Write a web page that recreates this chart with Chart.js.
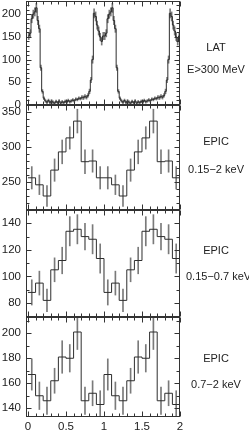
<!DOCTYPE html>
<html>
<head>
<meta charset="utf-8">
<script src="https://cdn.jsdelivr.net/npm/chart.js@4.4.1/dist/chart.umd.min.js"></script>
<style>
  body { margin: 0; background: #fff; }
  #wrap { position: relative; width: 249px; height: 433px; }
  canvas { position: absolute; left: 0; top: 0; }
  .lbl {
    position: absolute; left: 186px; width: 60px; text-align: center;
    font: 11px "Liberation Sans", Arial, sans-serif; color: #222;
    line-height: 14px; white-space: nowrap;
  }
</style>
</head>
<body>
<div id="wrap">
  <canvas id="lat" width="249" height="433"></canvas>
  <canvas id="epicAll" width="249" height="433"></canvas>
  <canvas id="epicSoft" width="249" height="433"></canvas>
  <canvas id="epicHard" width="249" height="433"></canvas>
  <div class="lbl" style="top:40px">LAT</div>
  <div class="lbl" style="top:62px">E&gt;300 MeV</div>
  <div class="lbl" style="top:134px">EPIC</div>
  <div class="lbl" style="top:162px">0.15−2 keV</div>
  <div class="lbl" style="top:243px">EPIC</div>
  <div class="lbl" style="top:269px">0.15−0.7 keV</div>
  <div class="lbl" style="top:351px">EPIC</div>
  <div class="lbl" style="top:377px">0.7−2 keV</div>
</div>
<script>
// Phase axis
const xTicks = [0, 0.5, 1, 1.5, 2];

// LAT counts, one cycle of 50 bins (0.02 wide), shown twice
const latCounts = [
  152, 158, 190, 200, 205, 214, 186, 168, 82, 30,
  15, 9, 6, 10, 5, 9, 6, 4, 8, 5,
  9, 4, 7, 5, 8, 6, 10, 7, 9, 11,
  9, 13, 12, 15, 14, 17, 16, 19, 17, 21,
  30, 55, 100, 202, 195, 176, 163, 150, 140, 152
];
const latErr = [
  8, 8, 9, 9, 9, 10, 9, 8, 6, 4,
  3, 3, 3, 3, 3, 3, 3, 3, 3, 3,
  3, 3, 3, 3, 3, 3, 3, 3, 3, 3,
  3, 3, 3, 3, 3, 4, 4, 4, 4, 4,
  5, 6, 8, 10, 10, 9, 9, 8, 8, 8
];
const latTicks = [0, 50, 100, 150, 200];

// EPIC rates, one cycle of 10 bins (0.1 wide), shown twice
const epicAllRate = [256, 246, 230, 267, 293, 313, 337, 279, 280, 256];
const epicAllErr = [16, 14, 15, 16, 17, 16, 17, 17, 16, 16];
const epicAllTicks = [250, 300, 350];

const epicSoftRate = [88, 95, 82, 105, 112, 134, 135.5, 130, 128, 113.5];
const epicSoftErr = [9.5, 9, 8.5, 9, 10, 11, 11, 10, 11, 11];
const epicSoftTicks = [80, 100, 120, 140];

const epicHardRate = [167, 150, 146, 162, 181, 180, 201, 146, 152, 143];
const epicHardErr = [12.5, 11, 11, 10, 13, 11, 14, 11, 10, 11];
const epicHardTicks = [140, 160, 180, 200];

Chart.defaults.font.family = '"Liberation Sans", Arial, sans-serif';
Chart.defaults.font.size = 11.5;
Chart.defaults.color = '#222';

// Histogram steps: left bin edges for two cycles plus closing point
function stepPoints(cycle, width) {
  const pts = [];
  for (let c = 0; c < 2; c++) {
    cycle.forEach((v, i) => pts.push({ x: c + i * width, y: v }));
  }
  pts.push({ x: 2, y: cycle[cycle.length - 1] });
  return pts;
}

// Error bars as floating bars at bin centres
function errorBars(cycle, errs, width) {
  const bars = [];
  for (let c = 0; c < 2; c++) {
    cycle.forEach((v, i) => bars.push({ x: c + (i + 0.5) * width, y: [v - errs[i], v + errs[i]] }));
  }
  return bars;
}

// Frame around the plot with inward ticks on all four sides
const frameTicks = {
  id: 'frameTicks',
  afterDraw(chart, args, opts) {
    const { ctx, chartArea: a } = chart;
    const x = chart.scales.x, y = chart.scales.y;
    const L = Math.round(a.left) + 0.5, R = Math.round(a.right) - 0.5;
    const T = Math.round(a.top) + 0.5, B = Math.round(a.bottom) - 0.5;
    ctx.save();
    ctx.strokeStyle = '#333';
    ctx.lineWidth = 1;
    ctx.strokeRect(L, T, R - L, B - T);
    ctx.beginPath();
    for (let i = 0; i <= 20; i++) {
      const px = Math.round(x.getPixelForValue(i / 10)) + 0.5;
      const len = i % 5 === 0 ? 5 : 3;
      ctx.moveTo(px, B); ctx.lineTo(px, B - len);
      ctx.moveTo(px, T); ctx.lineTo(px, T + len);
    }
    const start = Math.ceil(y.min / opts.minor) * opts.minor;
    for (let v = start; v <= y.max; v += opts.minor) {
      const py = Math.round(y.getPixelForValue(v)) + 0.5;
      const len = v % opts.major === 0 ? 5 : 3;
      ctx.moveTo(L, py); ctx.lineTo(L + len, py);
      ctx.moveTo(R, py); ctx.lineTo(R - len, py);
    }
    ctx.stroke();
    ctx.restore();
  }
};

function makePanel(id, cfg) {
  new Chart(document.getElementById(id), {
    type: 'line',
    data: {
      datasets: [
        {
          type: 'line',
          data: stepPoints(cfg.values, cfg.width),
          stepped: true,
          borderColor: '#2e2e2e',
          borderWidth: 1,
          pointRadius: 0,
          fill: false,
          order: 1
        },
        {
          type: 'bar',
          data: errorBars(cfg.values, cfg.errors, cfg.width),
          backgroundColor: '#7a7a7a',
          borderWidth: 0,
          barThickness: 1,
          clip: 0,
          order: 2
        }
      ]
    },
    options: {
      responsive: false,
      animation: false,
      events: [],
      layout: { padding: { top: cfg.top, bottom: cfg.bottom, left: 0, right: 69 } },
      plugins: {
        legend: { display: false },
        tooltip: { enabled: false },
        frameTicks: { minor: cfg.minor, major: cfg.major }
      },
      scales: {
        x: {
          type: 'linear',
          min: -0.026,
          max: 2,
          offset: false,
          display: cfg.showX,
          grid: { display: false, drawTicks: false, offset: false },
          border: { display: false },
          ticks: { padding: 3, maxRotation: 0, autoSkip: false, callback: v => String(v) },
          afterBuildTicks: s => { s.ticks = xTicks.map(v => ({ value: v })); },
          afterFit: s => { s.height = cfg.showX ? 16 : 0; s.paddingLeft = 0; s.paddingRight = 0; }
        },
        y: {
          type: 'linear',
          min: cfg.min,
          max: cfg.max,
          beginAtZero: false,
          grid: { display: false, drawTicks: false },
          border: { display: false },
          ticks: { padding: 5, callback: v => String(v) },
          afterBuildTicks: s => { s.ticks = cfg.ticks.map(v => ({ value: v })); },
          afterFit: s => { s.width = 26; s.paddingTop = 0; s.paddingBottom = 0; }
        }
      }
    },
    plugins: [frameTicks]
  });
}

makePanel('lat', {
  values: latCounts, errors: latErr, width: 0.02,
  min: 0, max: 229, ticks: latTicks, minor: 10, major: 50,
  top: 1, bottom: 433 - 105, showX: false
});
makePanel('epicAll', {
  values: epicAllRate, errors: epicAllErr, width: 0.1,
  min: 210, max: 360, ticks: epicAllTicks, minor: 10, major: 50,
  top: 105, bottom: 433 - 210, showX: false
});
makePanel('epicSoft', {
  values: epicSoftRate, errors: epicSoftErr, width: 0.1,
  min: 69.5, max: 150, ticks: epicSoftTicks, minor: 10, major: 20,
  top: 210, bottom: 433 - 317, showX: false
});
makePanel('epicHard', {
  values: epicHardRate, errors: epicHardErr, width: 0.1,
  min: 133, max: 213, ticks: epicHardTicks, minor: 10, major: 20,
  top: 317, bottom: 0, showX: true
});
</script>
</body>
</html>
